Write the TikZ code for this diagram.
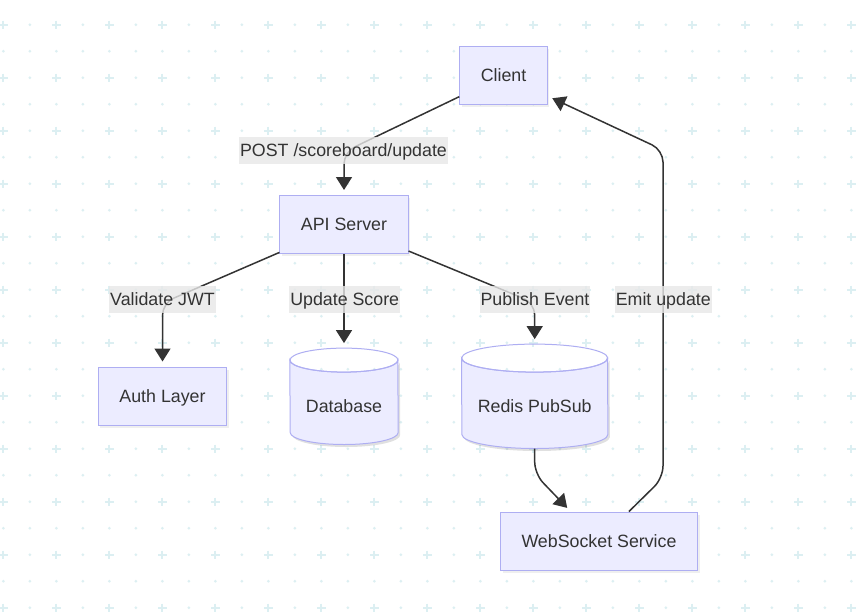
\documentclass[tikz,border=0pt]{standalone}
\usepackage{fontspec}
\setmainfont{Liberation Sans}
\usetikzlibrary{arrows.meta}
\usetikzlibrary{shadows}
\usetikzlibrary{backgrounds}

\definecolor{nodefill}{HTML}{ECECFF}
\definecolor{nodeline}{HTML}{AEAEF2}
\definecolor{ink}{HTML}{333333}
\definecolor{labelgray}{HTML}{E8E8E8}
\definecolor{gridcyan}{HTML}{DCEFF2}

\tikzset{
  txt/.style={font=\fontsize{17.8}{21}\selectfont, text=ink, text height=12.7pt, text depth=0pt},
  box/.style={txt, rectangle, draw=nodeline, fill=nodefill, line width=1pt, minimum height=58pt, inner xsep=21pt,
    drop shadow={shadow xshift=2pt, shadow yshift=-2.5pt, opacity=0.12}},
  store/.style={rectangle, inner sep=0pt},
  storetext/.style={txt, yshift=-10pt},
  edgelabel/.style={txt, fill=labelgray, fill opacity=0.8, text opacity=1, inner xsep=1pt, inner ysep=0pt, minimum height=27pt},
  flow/.style={draw=ink, line width=1.5pt, ->, shorten >=5pt, rounded corners=12pt},
}

% body of a cylinder round a store node: style, node, x radius, y radius
\newcommand\storebody[4]{%
  \path[#1] ([yshift=-#4pt]#2.north west) arc[start angle=180, end angle=360, x radius=#3pt, y radius=#4pt]
    -- ([yshift=#4pt]#2.south east) arc[start angle=0, end angle=-180, x radius=#3pt, y radius=#4pt] -- cycle;
  \path[#1, fill=none] ([yshift=-#4pt]#2.north) ellipse[x radius=#3pt, y radius=#4pt];
}

\begin{document}
\begin{tikzpicture}[x=1pt, y=-1pt, >={Triangle[length=13pt, width=16pt]}, every node/.style={txt}]
  \useasboundingbox (0,0) rectangle (859,614);

  \begin{scope}[on background layer]
    \fill[white] (0,0) rectangle (859,614);
    \foreach \i in {0,...,32}
      \foreach \j in {-1,...,22}
        \fill[gridcyan] ({3.3+26.5*\i},{24.7+26.5*\j}) circle[radius=1.5pt];
    \foreach \i in {0,2,...,32}
      \foreach \j in {0,2,...,22}
        \draw[gridcyan, line width=2pt] ({3.3+26.5*\i-4.2},{24.7+26.5*\j}) -- ++(8.4,0)
          ({3.3+26.5*\i},{24.7+26.5*\j-4.2}) -- ++(0,8.4);
  \end{scope}

  \begin{scope}[every node/.style={box}]
    \node (client) at (503.5,75.5) {Client};
    \node (api) at (344,224.5) {API Server};
    \node (auth) at (162.5,396) {Auth Layer};
    \node (ws) at (599,541) {WebSocket Service};
  \end{scope}

  \node[store, minimum width=108pt, minimum height=96pt, label={[storetext]center:Database}] (db) at (344,396.3) {};
  \node[store, minimum width=146pt, minimum height=104pt, label={[storetext]center:Redis PubSub}] (redis) at (534.7,396.3) {};

  \begin{scope}[on background layer]
    \begin{scope}[transform canvas={xshift=2pt, yshift=-2.5pt}]
      \storebody{fill=black, opacity=0.12}{db}{54}{12}
      \storebody{fill=black, opacity=0.12}{redis}{73}{14}
    \end{scope}
    \storebody{fill=nodefill, draw=nodeline, line width=1pt}{db}{54}{12}
    \storebody{fill=nodefill, draw=nodeline, line width=1pt}{redis}{73}{14}
  \end{scope}

  \coordinate (postbend) at (344,152);
  \coordinate (authbend) at (162.5,303);
  \coordinate (redisbend) at (534.7,303);
  \coordinate (pubsubbend) at (534.7,474);
  \coordinate (emitlow) at (663,478);
  \coordinate (emittop) at (663,150);

  \draw[flow] (client) -- (postbend) -- (api);
  \draw[flow] (api) -- (authbend) -- (auth);
  \draw[flow] (api) -- (db);
  \draw[flow] (api) -- (redisbend) -- (redis);
  \draw[flow] (redis.south) -- (pubsubbend) -- (ws);
  \draw[flow] (ws) -- (emitlow) -- (emittop) -- (client);

  \node[edgelabel] (postlbl) at (343.5,150.3) {POST /scoreboard/update};
  \node[edgelabel] (jwtlbl) at (162.5,299) {Validate JWT};
  \node[edgelabel] (scorelbl) at (344.7,299) {Update Score};
  \node[edgelabel] (publbl) at (535,299) {Publish Event};
  \node[edgelabel] (emitlbl) at (663.3,299) {Emit update};
\end{tikzpicture}
\end{document}
